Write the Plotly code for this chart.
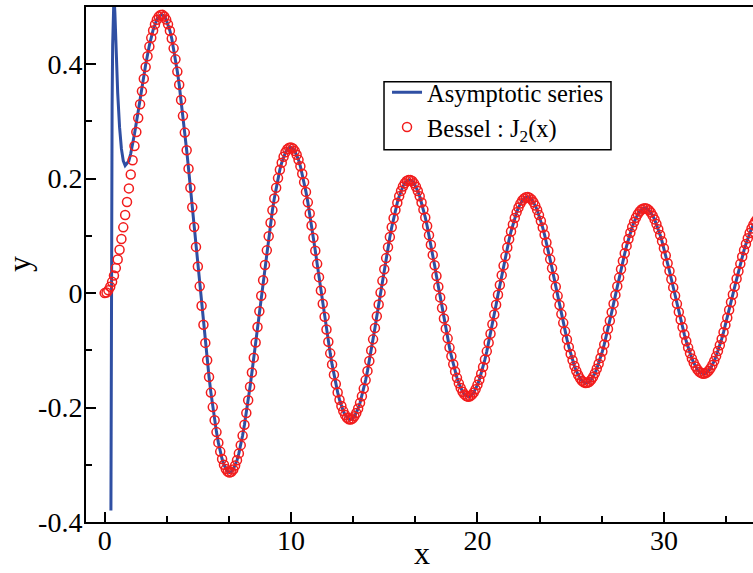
import plotly.graph_objects as go

# ---------------- data ----------------
# Bessel J2(x) samples (red circles), x = 0.0 ... 35.0 step 0.1
x_bessel = [round(0.1 * i, 1) for i in range(351)]
j2_values = [
    0.0000, 0.0012, 0.0050, 0.0112, 0.0197, 0.0306, 0.0437, 0.0588, 0.0758, 0.0946,
    0.1149, 0.1366, 0.1593, 0.1830, 0.2074, 0.2321, 0.2570, 0.2817, 0.3061, 0.3299,
    0.3528, 0.3746, 0.3951, 0.4139, 0.4310, 0.4461, 0.4590, 0.4696, 0.4777, 0.4832,
    0.4861, 0.4863, 0.4835, 0.4780, 0.4697, 0.4586, 0.4448, 0.4277, 0.4085, 0.3871,
    0.3641, 0.3376, 0.3098, 0.2805, 0.2496, 0.2175, 0.1840, 0.1499, 0.1154, 0.0808,
    0.0466, 0.0118, -0.0221, -0.0552, -0.0870, -0.1174, -0.1466, -0.1739, -0.1992, -0.2223,
    -0.2429, -0.2613, -0.2770, -0.2899, -0.3001, -0.3074, -0.3119, -0.3135, -0.3123, -0.3082,
    -0.3014, -0.2920, -0.2801, -0.2657, -0.2490, -0.2300, -0.2095, -0.1873, -0.1636, -0.1388,
    -0.1130, -0.0863, -0.0592, -0.0318, -0.0045, 0.0225, 0.0490, 0.0747, 0.0994, 0.1229,
    0.1449, 0.1654, 0.1842, 0.2010, 0.2157, 0.2280, 0.2383, 0.2461, 0.2513, 0.2542,
    0.2546, 0.2528, 0.2484, 0.2418, 0.2329, 0.2217, 0.2086, 0.1937, 0.1769, 0.1586,
    0.1390, 0.1183, 0.0966, 0.0741, 0.0511, 0.0279, 0.0046, -0.0186, -0.0414, -0.0636,
    -0.0849, -0.1053, -0.1246, -0.1425, -0.1588, -0.1735, -0.1863, -0.1973, -0.2062, -0.2130,
    -0.2177, -0.2204, -0.2209, -0.2191, -0.2153, -0.2095, -0.2016, -0.1918, -0.1801, -0.1669,
    -0.1520, -0.1359, -0.1185, -0.1001, -0.0808, -0.0609, -0.0405, -0.0198, 0.0009, 0.0214,
    0.0416, 0.0612, 0.0802, 0.0982, 0.1152, 0.1309, 0.1452, 0.1580, 0.1692, 0.1786,
    0.1862, 0.1920, 0.1959, 0.1978, 0.1978, 0.1958, 0.1918, 0.1860, 0.1785, 0.1692,
    0.1583, 0.1459, 0.1323, 0.1173, 0.1013, 0.0844, 0.0668, 0.0486, 0.0300, 0.0112,
    -0.0075, -0.0261, -0.0444, -0.0621, -0.0791, -0.0952, -0.1103, -0.1242, -0.1368, -0.1481,
    -0.1577, -0.1658, -0.1723, -0.1770, -0.1799, -0.1811, -0.1804, -0.1779, -0.1737, -0.1679,
    -0.1603, -0.1513, -0.1408, -0.1290, -0.1159, -0.1018, -0.0867, -0.0709, -0.0544, -0.0375,
    -0.0203, -0.0029, 0.0143, 0.0314, 0.0481, 0.0642, 0.0796, 0.0941, 0.1077, 0.1201,
    0.1313, 0.1411, 0.1496, 0.1564, 0.1617, 0.1655, 0.1675, 0.1678, 0.1665, 0.1636,
    0.1590, 0.1529, 0.1454, 0.1363, 0.1260, 0.1145, 0.1019, 0.0884, 0.0740, 0.0590,
    0.0434, 0.0275, 0.0113, -0.0048, -0.0209, -0.0367, -0.0520, -0.0668, -0.0809, -0.0941,
    -0.1063, -0.1174, -0.1273, -0.1360, -0.1432, -0.1490, -0.1532, -0.1559, -0.1571, -0.1568,
    -0.1549, -0.1514, -0.1465, -0.1401, -0.1323, -0.1234, -0.1132, -0.1019, -0.0896, -0.0765,
    -0.0627, -0.0483, -0.0334, -0.0184, -0.0031, 0.0121, 0.0271, 0.0418, 0.0560, 0.0696,
    0.0825, 0.0945, 0.1056, 0.1155, 0.1243, 0.1318, 0.1379, 0.1427, 0.1460, 0.1479,
    0.1483, 0.1473, 0.1447, 0.1408, 0.1354, 0.1288, 0.1208, 0.1118, 0.1016, 0.0905,
    0.0784, 0.0657, 0.0523, 0.0385, 0.0243, 0.0100, -0.0044, -0.0188, -0.0329, -0.0466,
    -0.0598, -0.0724, -0.0842, -0.0952, -0.1052, -0.1141, -0.1217, -0.1283, -0.1335, -0.1373,
    -0.1398, -0.1409, -0.1406, -0.1388, -0.1357, -0.1313, -0.1256, -0.1186, -0.1105, -0.1013,
    -0.0912, -0.0801, -0.0683, -0.0559, -0.0430, -0.0296, -0.0160, -0.0023, 0.0114, 0.0250,
    0.0383, 0.0511, 0.0634, 0.0750, 0.0859, 0.0959, 0.1049, 0.1128, 0.1195, 0.1251,
    0.1294,
]

# Asymptotic series near the origin (where it departs from J2)
x_asym_head = [0.337, 0.36, 0.38, 0.40, 0.43, 0.46, 0.50, 0.55, 0.60, 0.70, 0.80, 0.90,
               1.0, 1.1, 1.2, 1.3, 1.4, 1.5, 1.6, 1.8, 2.0, 2.2, 2.4, 2.6, 2.8]
y_asym_head = [-0.38, -0.021, 0.186, 0.327, 0.434, 0.50, 0.52, 0.49, 0.431, 0.350, 0.290, 0.252,
               0.231, 0.223, 0.227, 0.231, 0.244, 0.260, 0.278, 0.318, 0.360, 0.399, 0.433, 0.460, 0.478]
# beyond x = 3 the asymptotic series coincides with J2 at plot resolution
asym_start_index = 30

x_ticks = [0, 10, 20, 30]
y_tick_vals = [-0.4, -0.2, 0, 0.2, 0.4]
y_tick_text = ["-0.4", "-0.2", "0", "0.2", "0.4"]

x_asym = x_asym_head + x_bessel[asym_start_index:]
y_asym = y_asym_head + j2_values[asym_start_index:]

FONT = "Liberation Serif, Times New Roman, serif"

fig = go.Figure()
fig.add_trace(go.Scatter(
    x=x_asym, y=y_asym, mode="lines", name="Asymptotic series",
    line=dict(color="#2f4fa3", width=3),
))
fig.add_trace(go.Scatter(
    x=x_bessel, y=j2_values, mode="markers", name="Bessel : J<sub>2</sub>(x)",
    marker=dict(symbol="circle-open", size=9, color="#f21c1c", line=dict(width=1.5)),
))

axis_common = dict(
    showline=True, linewidth=2, linecolor="black",
    ticks="inside", ticklen=10, tickwidth=2, tickcolor="black",
    showgrid=False, zeroline=False, automargin=False,
    tickfont=dict(family=FONT, size=28, color="black"),
)

fig.update_layout(
    width=753, height=573,
    margin=dict(l=86, r=0, t=7, b=51),
    paper_bgcolor="white", plot_bgcolor="white",
    font=dict(family=FONT, color="black"),
    showlegend=True,
    legend=dict(
        x=0.4513, y=0.8781, xanchor="left", yanchor="top",
        borderwidth=0, bgcolor="rgba(0,0,0,0)",
        font=dict(family=FONT, size=24.5, color="black"),
        itemwidth=30, tracegroupgap=0,
    ),
    xaxis=dict(
        **axis_common, range=[-1, 34.78], mirror=True,
        tickmode="array", tickvals=x_ticks, ticklabelstandoff=-8,
        minor=dict(ticks="inside", ticklen=6, tickwidth=2, tickcolor="black",
                   dtick=10 / 3, tick0=0, showgrid=False),
    ),
    yaxis=dict(
        **axis_common, range=[-0.4, 0.5], mirror=False,
        tickmode="array", tickvals=y_tick_vals, ticktext=y_tick_text, ticklabelstandoff=-4,
        minor=dict(ticks="inside", ticklen=6, tickwidth=2, tickcolor="black",
                   tickmode="array", tickvals=[-0.3, -0.1, 0.1, 0.3], showgrid=False),
    ),
    shapes=[
        dict(type="rect", xref="paper", yref="paper",
             x0=0.4468, x1=0.7871, y0=0.7226, y1=0.8548,
             line=dict(color="black", width=1.5), fillcolor="rgba(0,0,0,0)", layer="above"),
    ],
    annotations=[
        dict(text="x", xref="paper", yref="paper", x=0.5037, y=-0.0995,
             xanchor="center", yanchor="bottom", showarrow=False,
             font=dict(family=FONT, size=32, color="black")),
        dict(text="y", xref="paper", yref="paper", x=-0.1005, y=0.501,
             xanchor="center", yanchor="middle", showarrow=False, textangle=-90,
             font=dict(family=FONT, size=32, color="black")),
    ],
)

fig.write_html("out.html", config={"displayModeBar": False},
               post_script="document.body.style.margin='0px';")
